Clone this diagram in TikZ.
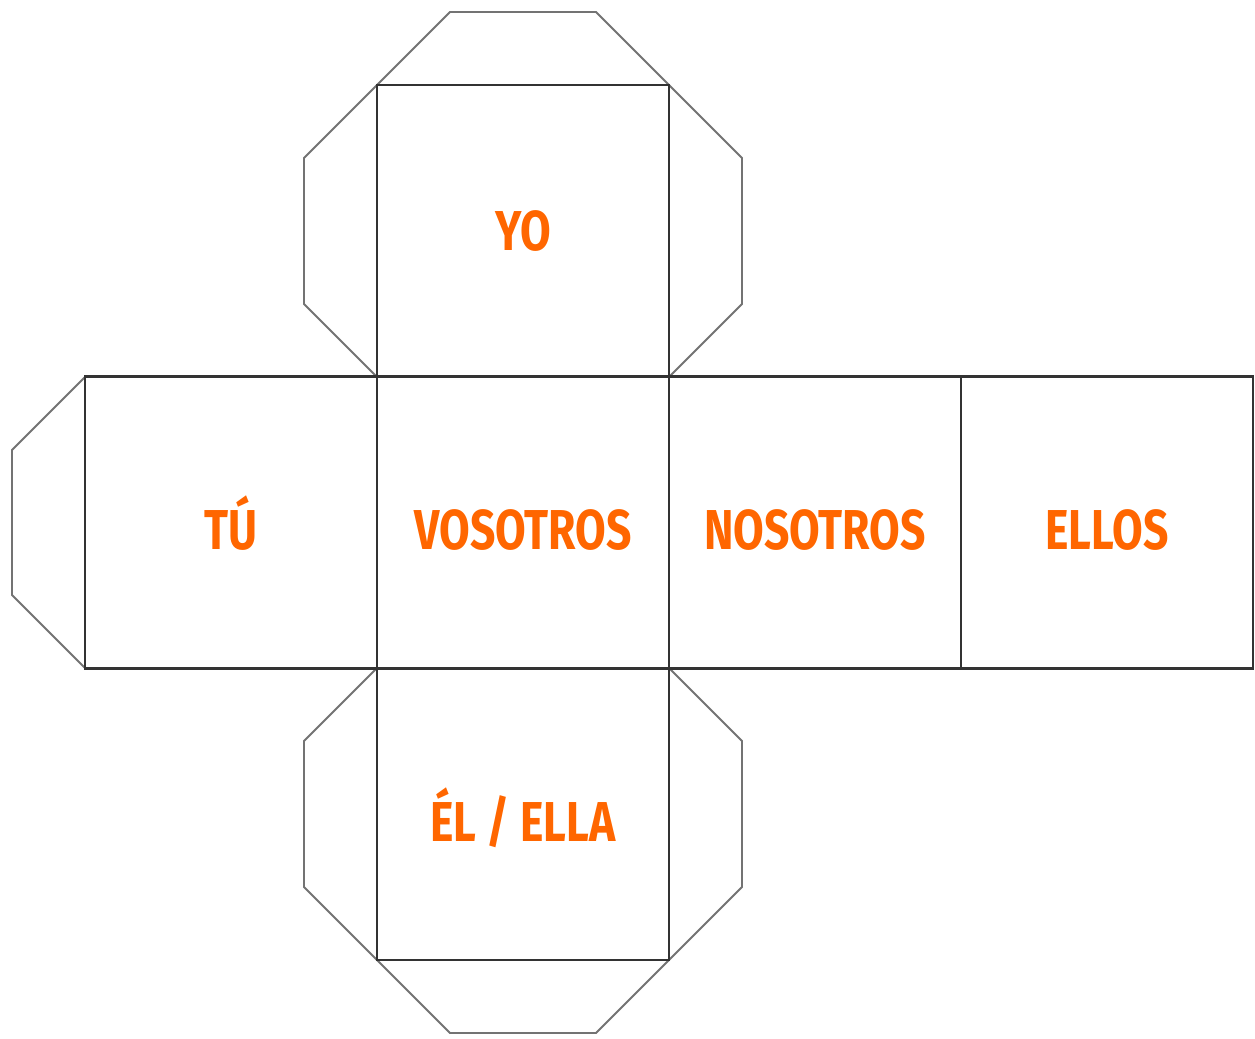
\documentclass[tikz,border=0pt]{standalone}
\usepackage{fontspec}
\usepackage{tikz}
\usepackage{xcolor}
\newfontfamily\dicefont[FakeStretch=0.79]{Fira Sans}
\definecolor{diceorange}{HTML}{FF6600}
\tikzset{
  face/.style={draw=black!80,line width=1.6pt,minimum size=5.84cm,inner sep=0pt,
    text height=1.1cm,text depth=0pt,
    text=diceorange,font=\dicefont\bfseries\fontsize{32}{36}\selectfont},
  flap/.style={draw=black!55,line width=1.1pt,line join=miter}
}

\begin{document}
\begin{tikzpicture}
            \useasboundingbox (0,0) rectangle (25.1,20.78);
            % flaps
            \coordinate (yoNW) at (7.54,19.08);
            \coordinate (yoNE) at (13.38,19.08);
            \coordinate (yoSW) at (7.54,13.24);
            \coordinate (yoSE) at (13.38,13.24);
            \coordinate (tuNW) at (1.7,13.24);
            \coordinate (tuSW) at (1.7,7.42);
            \coordinate (elNW) at (7.54,7.42);
            \coordinate (elNE) at (13.38,7.42);
            \coordinate (elSW) at (7.54,1.58);
            \coordinate (elSE) at (13.38,1.58);
            \draw[flap] (yoNW) -- ++(1.46,1.46) -- ++(2.92,0) -- (yoNE);
            \draw[flap] (yoNW) -- ++(-1.46,-1.46) -- ++(0,-2.92) -- (yoSW);
            \draw[flap] (yoNE) -- ++(1.46,-1.46) -- ++(0,-2.92) -- (yoSE);
            \draw[flap] (tuNW) -- ++(-1.46,-1.46) -- ++(0,-2.9) -- (tuSW);
            \draw[flap] (elNW) -- ++(-1.46,-1.46) -- ++(0,-2.92) -- (elSW);
            \draw[flap] (elNE) -- ++(1.46,-1.46) -- ++(0,-2.92) -- (elSE);
            \draw[flap] (elSW) -- ++(1.46,-1.46) -- ++(2.92,0) -- (elSE);

            % faces
            \node[face,text height=0.8cm] (yo) at (10.46,16.16) {YO};
            \node[face] (tu) at (4.62,10.33) {TÚ};
            \node[face] (vosotros) at (10.46,10.33) {VOSOTROS};
            \node[face] (nosotros) at (16.30,10.33) {NOSOTROS};
            \node[face] (ellos) at (22.14,10.33) {ELLOS};
            \node[face] (el) at (10.46,4.50) {ÉL / ELLA};
        \end{tikzpicture}
\end{document}
